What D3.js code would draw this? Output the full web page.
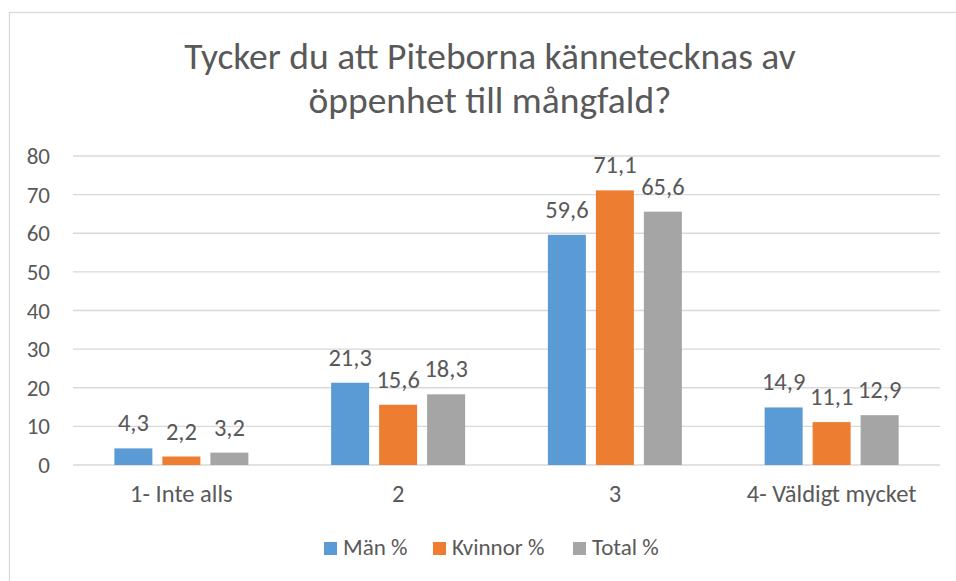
<html>
	<head>
		<meta content="text/html;charset=utf-8" http-equiv="Content-Type">
		<script src="https://d3js.org/d3.v7.min.js"></script>
		<style>
		body { margin: 0; background: #fff; }
		text { font-family: Carlito, Lato, "Noto Sans", sans-serif; fill: #595959; }
		</style>
	</head>
	<body>
		<svg id="page"></svg>
		<script>

		// data
		var categories = ["1- Inte alls", "2", "3", "4- Väldigt mycket"];
		var seriesNames = ["Män %", "Kvinnor %", "Total %"];
		var man = [4.3, 21.3, 59.6, 14.9];
		var kvinnor = [2.2, 15.6, 71.1, 11.1];
		var total = [3.2, 18.3, 65.6, 12.9];
		var yTicks = [0, 10, 20, 30, 40, 50, 60, 70, 80];
		var colors = ["#5B9BD5", "#ED7D31", "#A5A5A5"];
		var titleLines = ["Tycker du att Piteborna kännetecknas av", "öppenhet till mångfald?"];

		var series = [man, kvinnor, total];

		var svg = d3.select("#page").attr("width", 956).attr("height", 581);

		// chart border
		svg.append("rect")
			.attr("x", 9.5).attr("y", 12.5)
			.attr("width", 960).attr("height", 600)
			.attr("fill", "none").attr("stroke", "#D9D9D9").attr("stroke-width", 1.3);

		// title
		svg.append("g").selectAll("text")
			.data(titleLines).enter().append("text")
			.attr("x", 490)
			.attr("y", function(d, i){ return 69 + i * 44; })
			.style("font-size", "37.5px")
			.style("text-anchor", "middle")
			.text(function(d){ return d; });

		var plotLeft = 73, plotRight = 940, plotTop = 156, plotBottom = 465;

		var y = d3.scaleLinear().domain([0, 80]).range([plotBottom, plotTop]);
		var x0 = d3.scaleBand().domain(categories).range([plotLeft, plotRight]).paddingInner(0).paddingOuter(0);

		var groupW = x0.bandwidth() * 134 / 216.75;
		var x1 = d3.scaleBand().domain(d3.range(3))
			.range([0, groupW]).paddingInner(10 / 48).paddingOuter(0);

		// gridlines
		svg.append("g").selectAll("line")
			.data(yTicks).enter().append("line")
			.attr("x1", plotLeft).attr("x2", plotRight)
			.attr("y1", function(d){ return y(d); })
			.attr("y2", function(d){ return y(d); })
			.attr("stroke", "#D9D9D9").attr("stroke-width", 1.3);

		// y labels
		svg.append("g").selectAll("text")
			.data(yTicks).enter().append("text")
			.attr("x", 50)
			.attr("y", function(d){ return y(d) + 8; })
			.style("font-size", "23px")
			.style("text-anchor", "end")
			.text(function(d){ return d; });

		var fmt = d3.formatLocale({decimal: ",", thousands: " ", grouping: [3], currency: ["", ""]}).format(".1f");

		// bars + labels
		series.forEach(function(vals, s){
			var g = svg.append("g");
			g.selectAll("rect")
				.data(vals).enter().append("rect")
				.attr("x", function(d, i){ return x0(categories[i]) + (x0.bandwidth() - groupW) / 2 + x1(s); })
				.attr("y", function(d){ return y(d); })
				.attr("width", x1.bandwidth())
				.attr("height", function(d){ return plotBottom - y(d); })
				.attr("fill", colors[s]);
			g.selectAll("text")
				.data(vals).enter().append("text")
				.attr("x", function(d, i){ return x0(categories[i]) + (x0.bandwidth() - groupW) / 2 + x1(s) + x1.bandwidth() / 2; })
				.attr("y", function(d){ return y(d) - 17; })
				.style("font-size", "24.5px")
				.style("text-anchor", "middle")
				.text(function(d){ return fmt(d); });
		});

		// x labels
		svg.append("g").selectAll("text")
			.data(categories).enter().append("text")
			.attr("x", function(d){ return x0(d) + x0.bandwidth() / 2; })
			.attr("y", 502)
			.style("font-size", "24.5px")
			.style("text-anchor", "middle")
			.text(function(d){ return d; });

		// legend
		var legendX = [324, 433, 573];
		var lg = svg.append("g").selectAll("g")
			.data(seriesNames).enter().append("g")
			.attr("transform", function(d, i){ return "translate(" + legendX[i] + ",542)"; });
		lg.append("rect")
			.attr("width", 13).attr("height", 13)
			.attr("fill", function(d, i){ return colors[i]; });
		lg.append("text")
			.attr("x", 19).attr("y", 13)
			.style("font-size", "23px")
			.text(function(d){ return d; });

		</script>
	</body>
</html>
